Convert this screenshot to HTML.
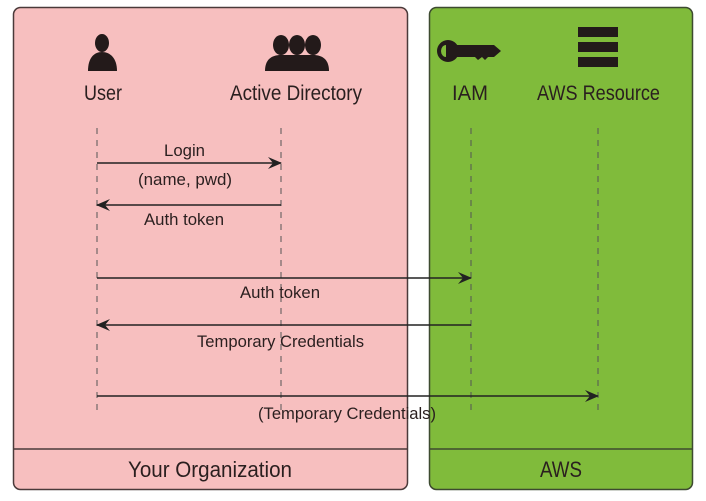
<!DOCTYPE html>
<html><head><style>
html,body{margin:0;padding:0;background:#fff;}
svg text{font-family:"Liberation Sans",sans-serif;fill:#2a1f1f;}
</style></head><body>
<svg width="706" height="496" viewBox="0 0 706 496" xmlns="http://www.w3.org/2000/svg">
<defs>
<marker id="a" markerWidth="14" markerHeight="12" refX="13" refY="6" orient="auto" markerUnits="userSpaceOnUse">
<path d="M0,0 L14,6 L0,12 L5,6 Z" fill="#222"/>
</marker>
</defs>
<rect x="13.5" y="7.5" width="394" height="482" rx="7" fill="#f7bfbf" stroke="#4a3a3a" stroke-width="1.5"/>
<line x1="13" y1="449" x2="407" y2="449" stroke="#4a3a3a" stroke-width="1.5"/>
<rect x="429.5" y="7.5" width="263" height="482" rx="7" fill="#80bb3b" stroke="#3d4a30" stroke-width="1.5"/>
<line x1="429" y1="449" x2="693" y2="449" stroke="#3d4a30" stroke-width="1.5"/>
<g fill="#231a1a">
<ellipse cx="102" cy="43" rx="7" ry="9"/>
<path d="M88,71 C88,58 94,52 102,52 C110,52 117,58 117,71 Z"/>
<ellipse cx="281" cy="45" rx="8" ry="10"/>
<ellipse cx="313" cy="45" rx="8" ry="10"/>
<ellipse cx="297" cy="45" rx="8" ry="10"/>
<path d="M265,71 C265,60 271,55 281,55 L313,55 C323,55 329,60 329,71 Z"/>
<path d="M448,40 a11,11 0 1,0 0,22 a11,11 0 1,0 0,-22 Z M446,45 L446,57 a5,6 0 0,1 0,-12 Z" fill-rule="evenodd"/>
<path d="M455,45 L494,45 L501,51 L494,57 L488,57 L485,60 L482,57 L478,60 L475,57 L455,57 Z"/>
<rect x="578" y="27" width="40" height="10"/>
<rect x="578" y="42" width="40" height="10"/>
<rect x="578" y="57" width="40" height="10"/>
</g>
<g font-size="21" lengthAdjust="spacingAndGlyphs">
<text x="84" y="100" textLength="38" lengthAdjust="spacingAndGlyphs">User</text>
<text x="230" y="100" textLength="132" lengthAdjust="spacingAndGlyphs">Active Directory</text>
<text x="452" y="100" textLength="36" lengthAdjust="spacingAndGlyphs">IAM</text>
<text x="537" y="100" textLength="123" lengthAdjust="spacingAndGlyphs">AWS Resource</text>
</g>
<g stroke="#555" stroke-width="1" stroke-dasharray="6,6">
<line x1="97" y1="128" x2="97" y2="414"/>
<line x1="281" y1="128" x2="281" y2="414"/>
<line x1="471" y1="128" x2="471" y2="414"/>
<line x1="598" y1="128" x2="598" y2="414"/>
</g>
<g stroke="#222" stroke-width="1.5" marker-end="url(#a)">
<line x1="97" y1="163" x2="281" y2="163"/>
<line x1="281" y1="205" x2="97" y2="205"/>
<line x1="97" y1="278" x2="471" y2="278"/>
<line x1="471" y1="325" x2="97" y2="325"/>
<line x1="97" y1="396" x2="598" y2="396"/>
</g>
<g font-size="17">
<text x="164" y="156" textLength="41" lengthAdjust="spacingAndGlyphs">Login</text>
<text x="138" y="185" textLength="94" lengthAdjust="spacingAndGlyphs">(name, pwd)</text>
<text x="144" y="225" textLength="80" lengthAdjust="spacingAndGlyphs">Auth token</text>
<text x="240" y="298" textLength="80" lengthAdjust="spacingAndGlyphs">Auth token</text>
<text x="197" y="347" textLength="167" lengthAdjust="spacingAndGlyphs">Temporary Credentials</text>
<text x="258" y="419" textLength="178" lengthAdjust="spacingAndGlyphs">(Temporary Credentials)</text>
</g>
<text x="128" y="477" font-size="22" textLength="164" lengthAdjust="spacingAndGlyphs">Your Organization</text>
<text x="540" y="477" font-size="22" textLength="42" lengthAdjust="spacingAndGlyphs">AWS</text>
</svg>
</body></html>
